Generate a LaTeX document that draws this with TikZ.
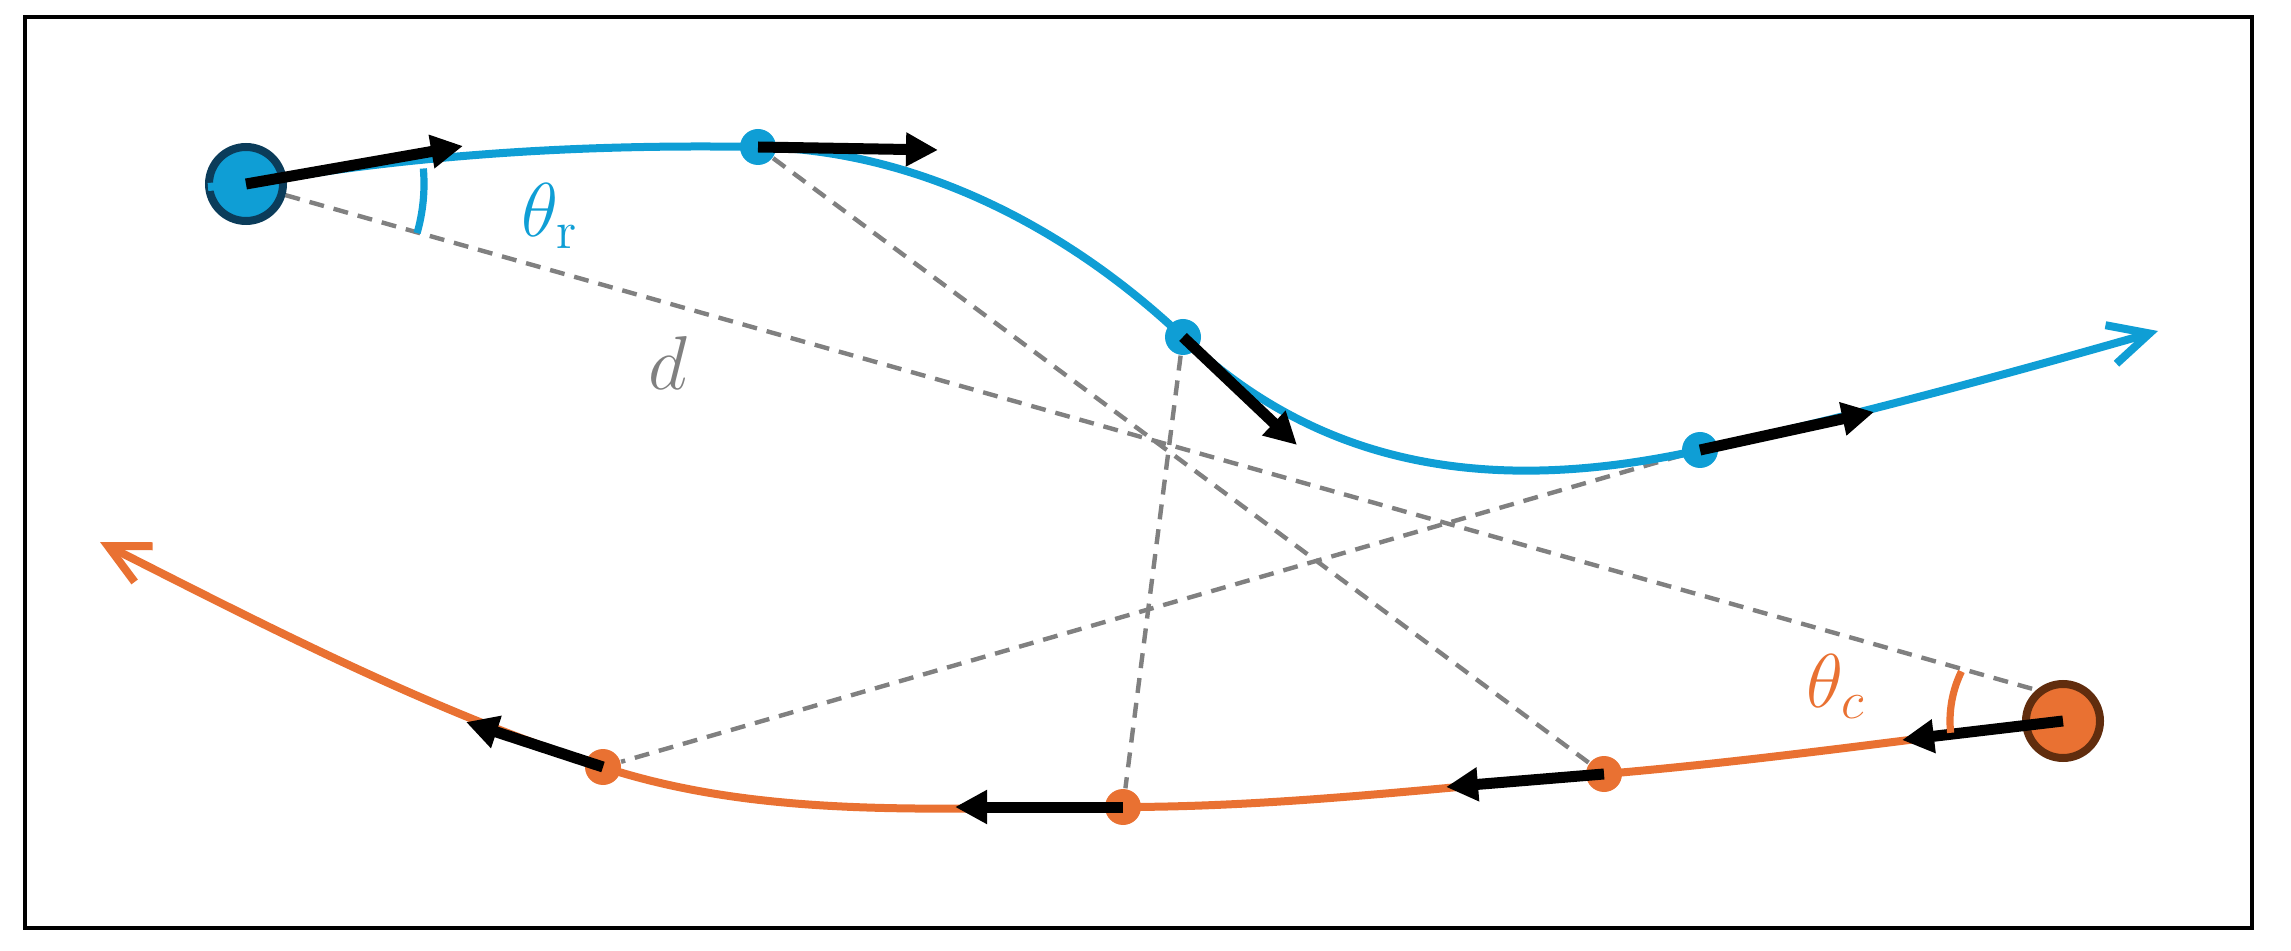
\documentclass[tikz,border=0pt]{standalone}
\usetikzlibrary{arrows.meta}
\definecolor{cblue}{HTML}{0F9ED5}
\definecolor{cblueb}{HTML}{0B3C5A}
\definecolor{corange}{HTML}{E97132}
\definecolor{coranged}{HTML}{612D0E}
\definecolor{cgray}{HTML}{808080}
\pgfdeclarelayer{bg}
\pgfsetlayers{bg,main}
\begin{document}
\begin{tikzpicture}[x=0.25pt,y=-0.25pt,
  bigdot/.style={circle,inner sep=0pt,minimum size=18.5pt,line width=2pt},
  smalldot/.style={circle,inner sep=0pt,minimum size=9pt},
  traj/.style={line width=2pt,-{Straight Barb[length=10pt,width=10pt]}},
  vel/.style={line width=2.75pt,-{Triangle[length=8pt,width=8pt]}},
  link/.style={cgray,line width=1.1pt,dash pattern=on 3.75pt off 2.5pt},
  anglearc/.style={line width=1.8pt},
  lbl/.style={inner sep=0pt,anchor=base west,font=\huge,scale=0.92}
]
\useasboundingbox (0,0) rectangle (2291,951);
\draw[line width=1pt] (25,17) rectangle (2252,928);

% trajectory points
\node[bigdot,fill=cblue,draw=cblueb] (B1) at (246,184) {};
\node[smalldot,fill=cblue] (B2) at (758,147) {};
\node[smalldot,fill=cblue] (B3) at (1183,337) {};
\node[smalldot,fill=cblue] (B4) at (1700,450) {};
\node[bigdot,fill=corange,draw=coranged] (O1) at (2063,721) {};
\node[smalldot,fill=corange] (O2) at (1604,774) {};
\node[smalldot,fill=corange] (O3) at (1123,807) {};
\node[smalldot,fill=corange] (O4) at (603,767) {};

\coordinate (Bstart) at (208,187);
\coordinate (Bend) at (2158,331);
\coordinate (Oend) at (100,542);
\coordinate (O1t) at (2040,691);

% distance links
\begin{pgfonlayer}{bg}
\draw[link] (B1) -- (O1t);
\draw[link] (B2) -- (O2);
\draw[link] (B3) -- (O3);
\draw[link] (B4) -- (O4);
\end{pgfonlayer}

% trajectories
\draw[traj,cblue] (Bstart) -- (B1.center)
  .. controls (415,154) and (587,144) .. (B2.center)
  .. controls (920,150) and (1070,230) .. (B3.center)
  .. controls (1328,475) and (1505,493) .. (B4.center)
  .. controls (1850,417) and (2011,373) .. (Bend);
\draw[traj,corange] (O1.center)
  .. controls (1910,739) and (1758,761) .. (O2.center)
  .. controls (1444,787) and (1283,807) .. (O3.center)
  .. controls (949,807) and (768,821) .. (O4.center)
  .. controls (428,710) and (264,625) .. (Oend);

% velocity arrows
\coordinate (tB1) at (463,146);
\coordinate (tB2) at (938,150);
\coordinate (tB3) at (1297,445);
\coordinate (tB4) at (1874,412);
\coordinate (tO1) at (1902,740);
\coordinate (tO2) at (1446,787);
\coordinate (tO3) at (955,807);
\coordinate (tO4) at (466,722);
\draw[vel] (B1.center) -- (tB1);
\draw[vel] (B2.center) -- (tB2);
\draw[vel] (B3.center) -- (tB3);
\draw[vel] (B4.center) -- (tB4);
\draw[vel] (O1.center) -- (tO1);
\draw[vel] (O2.center) -- (tO2);
\draw[vel] (O3.center) -- (tO3);
\draw[vel] (O4.center) -- (tO4);

% angles
\draw[anglearc,cblue] (B1.center) ++(-5:178) arc[start angle=-5,end angle=16,radius=178];
\draw[anglearc,corange] (O1.center) ++(174:113) arc[start angle=174,end angle=206,radius=113];

% labels
\node[lbl,text=cblue] (thr) at (521,237) {$\theta_{\mathrm{r}}$};
\node[lbl,text=corange] (thc) at (1806,707) {$\theta_c$};
\node[lbl,text=cgray] (dl) at (648,390) {$d$};
\end{tikzpicture}
\end{document}
